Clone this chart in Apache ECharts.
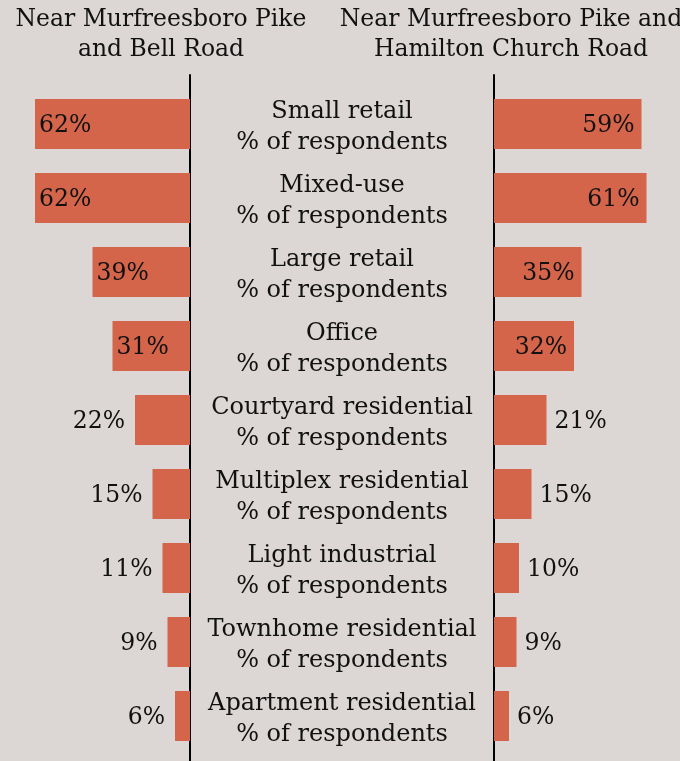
<!DOCTYPE html>
<html><head><meta charset="utf-8">
<script src="https://cdn.jsdelivr.net/npm/echarts@6/dist/echarts.min.js"></script>
<style>html,body{margin:0;padding:0;background:#dcd7d4;}#c{width:680px;height:761px;}</style>
</head><body><div id="c"></div>
<script>
const categories = ["Small retail","Mixed-use","Large retail","Office","Courtyard residential","Multiplex residential","Light industrial","Townhome residential","Apartment residential"];
const bellRoad = [62,62,39,31,22,15,11,9,6];
const hamiltonChurch = [59,61,35,32,21,15,10,9,6];
const leftTitle = "Near Murfreesboro Pike\nand Bell Road";
const rightTitle = "Near Murfreesboro Pike and\nHamilton Church Road";

const FONT = "DejaVu Serif";
const BAR = "#d4654b";
const TXT = "#111";
const rowTop = 87, rowH = 666;

function items(vals, side){
  return vals.map(v => ({
    value: v,
    label: {
      position: v >= 25 ? (side === 'L' ? 'insideLeft' : 'insideRight') : (side === 'L' ? 'left' : 'right'),
      distance: v >= 25 ? (side === 'L' ? 4 : 7) : (side === 'L' ? 10 : 8)
    }
  }));
}

const chart = echarts.init(document.getElementById('c'));
chart.setOption({
  backgroundColor: '#dcd7d4',
  animation: false,
  title: [
    {text: leftTitle, left: 156, top: 0, textAlign: 'center',
     textStyle:{fontFamily:FONT, fontSize:23.5, fontWeight:'normal', color:TXT, lineHeight:30}},
    {text: rightTitle, left: 506, top: 0, textAlign: 'center',
     textStyle:{fontFamily:FONT, fontSize:23.5, fontWeight:'normal', color:TXT, lineHeight:30}}
  ],
  grid: [
    {left: 0, width: 190, top: rowTop, height: rowH},
    {left: 494, width: 186, top: rowTop, height: rowH},
    {left: 190, width: 304, top: 75, bottom: -5},
    {left: 190, width: 304, top: rowTop + 3, height: rowH}
  ],
  xAxis: [
    {gridIndex:0, type:'value', min:0, max:76, inverse:true, show:false},
    {gridIndex:1, type:'value', min:0, max:74.4, show:false},
    {gridIndex:2, type:'value', min:0, max:1, show:false},
    {gridIndex:3, type:'value', min:0, max:1, show:false}
  ],
  yAxis: [
    {gridIndex:0, type:'category', data:categories, inverse:true, show:false},
    {gridIndex:1, type:'category', data:categories, inverse:true, show:false},
    {gridIndex:2, type:'value', min:0, max:1, position:'left',
     axisLine:{show:true, lineStyle:{color:'#000', width:2}}, axisTick:{show:false}, axisLabel:{show:false}, splitLine:{show:false}},
    {gridIndex:2, type:'value', min:0, max:1, position:'right',
     axisLine:{show:true, lineStyle:{color:'#000', width:2}}, axisTick:{show:false}, axisLabel:{show:false}, splitLine:{show:false}},
    {gridIndex:3, type:'category', data:categories, inverse:true, position:'left',
     axisLine:{show:false}, axisTick:{show:false}, splitLine:{show:false},
     axisLabel:{inside:true, margin:152, align:'center', verticalAlign:'middle', fontFamily:FONT, fontSize:24, color:TXT, lineHeight:31,
       formatter: v => v + '\n% of respondents'}}
  ],
  series: [
    {type:'bar', xAxisIndex:0, yAxisIndex:0, data: items(bellRoad,'L'), barWidth:50,
     itemStyle:{color:BAR}, label:{show:true, formatter:'{c}%', fontFamily:FONT, fontSize:23.5, color:TXT, offset:[0,2]}},
    {type:'bar', xAxisIndex:1, yAxisIndex:1, data: items(hamiltonChurch,'R'), barWidth:50,
     itemStyle:{color:BAR}, label:{show:true, formatter:'{c}%', fontFamily:FONT, fontSize:23.5, color:TXT, offset:[0,2]}}
  ]
});
</script></body></html>
